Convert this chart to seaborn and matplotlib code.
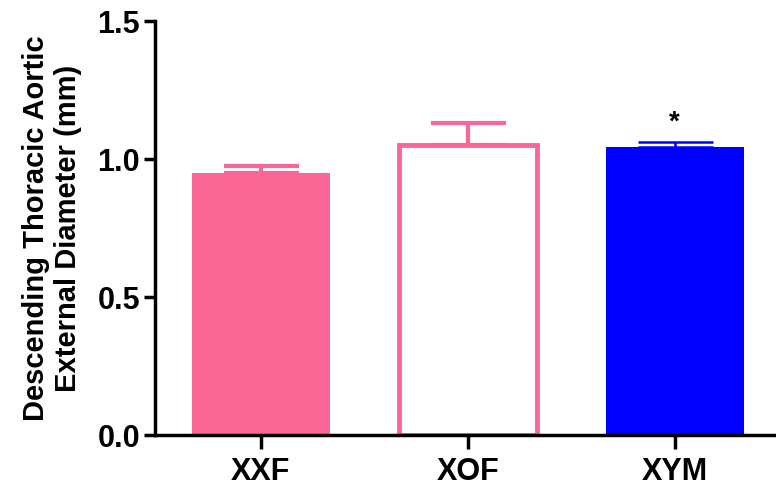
import matplotlib
matplotlib.use("Agg")
import matplotlib.pyplot as plt
import seaborn as sns
import pandas as pd

# Dados do gráfico
groups = ["XXF", "XOF", "XYM"]
means = [0.950, 1.052, 1.042]
sems = [0.025, 0.078, 0.020]

pink = "#FA6797"
blue = "#0000FF"
colors = [pink, pink, blue]
err_widths = [3, 3, 1.8]

sns.set_style("ticks")
plt.rcParams['font.family'] = ['Liberation Sans', 'DejaVu Sans']
plt.rcParams['font.weight'] = 'bold'
plt.rcParams['text.color'] = 'black'
plt.rcParams['axes.labelcolor'] = 'black'
plt.rcParams['xtick.color'] = 'black'
plt.rcParams['ytick.color'] = 'black'
plt.rcParams['axes.edgecolor'] = 'black'

df = pd.DataFrame({"group": groups, "mean": means, "sem": sems})

fig = plt.figure(figsize=(7.76, 4.91), dpi=100)
ax = fig.add_axes([0.2, 0.114, 0.8, 0.843])

# Barras de erro (apenas para cima), atrás das barras
for i in range(len(groups)):
    ax.errorbar(x=i, y=means[i], yerr=[[0], [sems[i]]], fmt="none",
                ecolor=colors[i], elinewidth=err_widths[i], capsize=27,
                capthick=err_widths[i], zorder=1)

sns.barplot(data=df, x="group", y="mean", hue="group", palette=colors,
            width=0.667, legend=False, errorbar=None, ax=ax, saturation=1)

# XOF: barra vazada com contorno rosa
for i, patch in enumerate(ax.patches):
    patch.set_zorder(2)
    if groups[i] == "XOF":
        patch.set_facecolor("white")
        patch.set_edgecolor(pink)
        patch.set_linewidth(3.5)
    else:
        patch.set_linewidth(0)

ax.text(2, 1.085, "*", ha="center", va="bottom", fontsize=20, fontweight="bold")

ax.set_ylim(0, 1.5)
ax.set_xlim(-0.51, 2.49)
ax.set_yticks([0.0, 0.5, 1.0, 1.5])
ax.set_yticklabels(["0.0", "0.5", "1.0", "1.5"])
ax.set_xlabel("")
ax.set_ylabel("Descending Thoracic Aortic\nExternal Diameter (mm)", fontsize=21,
              fontweight="bold", labelpad=11, linespacing=1.2)

ax.tick_params(axis="y", labelsize=22, width=2.5, length=8, pad=3)
ax.tick_params(axis="x", labelsize=22, width=2.5, length=10, pad=6)
for lab in ax.get_xticklabels() + ax.get_yticklabels():
    lab.set_fontweight("bold")

sns.despine(ax=ax)
ax.spines["left"].set_linewidth(2.5)
ax.spines["bottom"].set_linewidth(2.5)

fig.savefig("out.png", dpi=100)
